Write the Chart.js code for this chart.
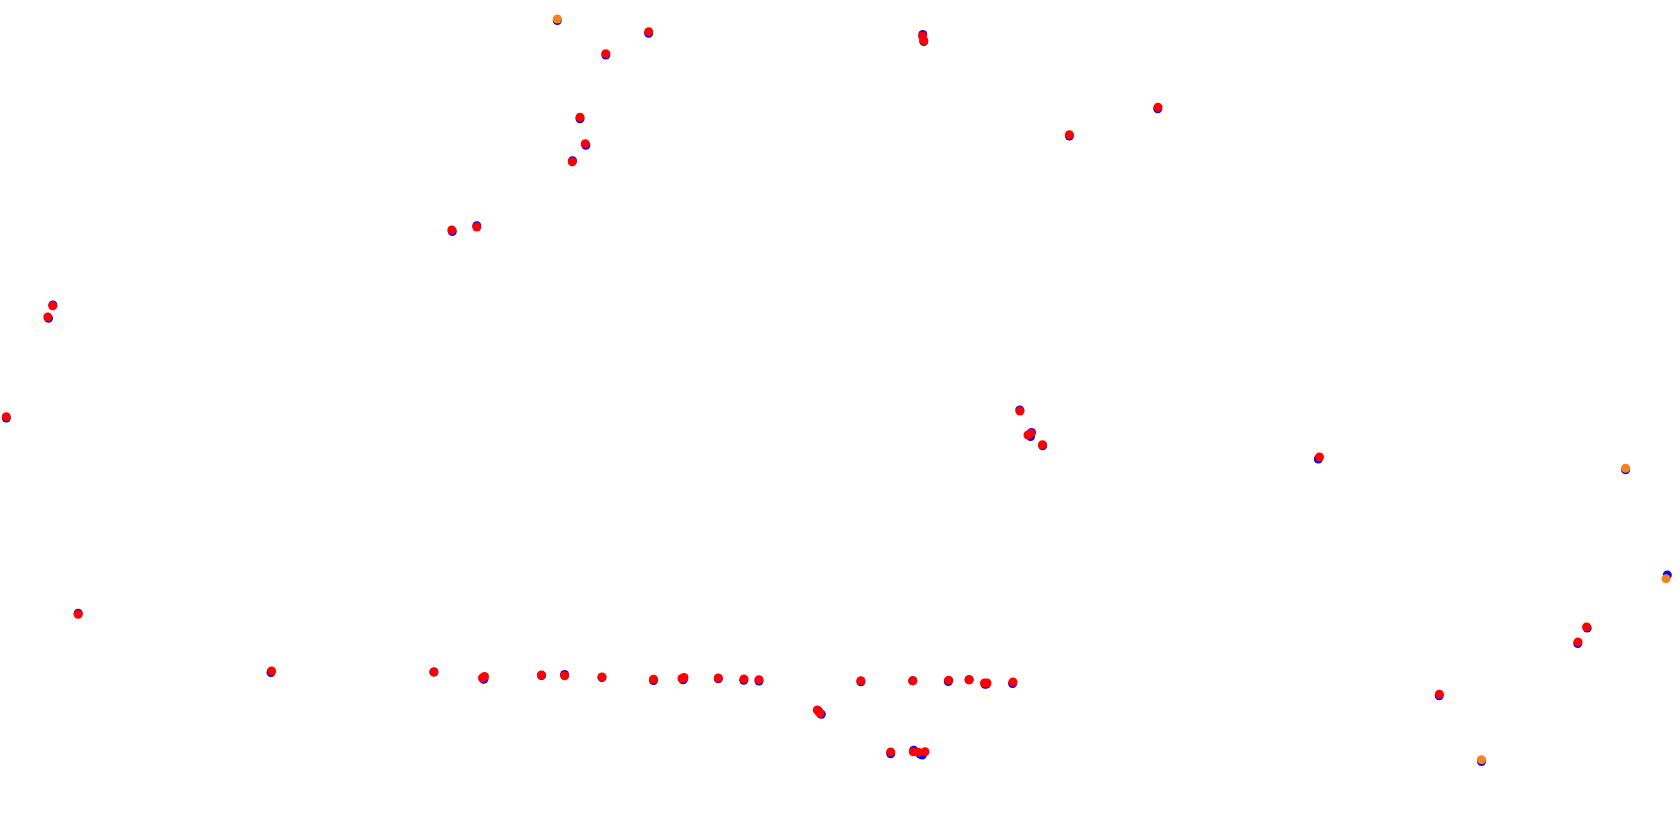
<!DOCTYPE html>
<html>
<head>
<meta charset="utf-8">
<script src="https://cdn.jsdelivr.net/npm/chart.js@4/dist/chart.umd.min.js"></script>
<style>
html,body{margin:0;padding:0;background:#fff;}
#wrap{width:1680px;height:827px;position:relative;}
</style>
</head>
<body>
<div id="wrap"><canvas id="c" width="1680" height="827"></canvas></div>
<script>
// Series values (x, y)
const redX = [648.7, 605.8, 922.5, 923.8, 580.0, 585.3, 572.3, 1158.0, 1069.4, 451.8, 476.8, 52.7, 47.8, 6.3, 1020.0, 1031.0, 1028.0, 1042.5, 1319.5,
  78.2, 271.6, 433.9, 482.5, 484.5, 541.5, 564.6, 602.0, 653.5, 682.0, 684.0, 718.3, 744.0, 759.0, 817.3, 820.0,
  860.9, 912.8, 948.7, 969.1, 984.5, 987.0, 1013.0, 890.7, 913.3, 918.3, 925.0, 1439.4, 1586.6, 1578.0];
const redY = [31.7, 53.7, 36.0, 40.7, 117.3, 143.7, 161.7, 107.3, 134.7, 230.0, 227.0, 305.7, 317.0, 416.7, 411.0, 433.3, 435.0, 444.7, 457.0,
  614.3, 671.0, 672.0, 678.0, 676.5, 675.0, 675.7, 677.0, 679.3, 678.5, 677.5, 678.0, 679.0, 679.7, 710.0, 713.3,
  680.7, 680.7, 680.3, 679.7, 683.0, 683.0, 682.0, 752.0, 751.7, 752.3, 751.7, 694.3, 627.0, 642.0];

const blueX = [648.7, 605.8, 922.8, 923.8, 580.0, 585.8, 572.5, 1157.8, 1069.4, 452.3, 476.8, 52.9, 48.5, 6.3, 1019.8, 1031.5, 1030.5, 1042.7, 1318.3,
  78.2, 271.0, 433.9, 483.7, 484.0, 541.5, 564.6, 602.0, 653.5, 683.0, 683.5, 718.3, 743.8, 759.0, 818.5, 821.3,
  860.9, 912.8, 948.3, 969.1, 985.0, 986.5, 1012.6, 890.7, 913.7, 920.0, 922.3, 1439.2, 1587.2, 1577.8,
  557.3, 1625.6, 1667.3, 1481.5];
const blueY = [33.2, 55.0, 34.5, 41.5, 118.8, 145.2, 160.7, 108.8, 136.0, 231.5, 225.8, 305.0, 318.3, 418.0, 410.0, 432.5, 436.5, 445.8, 459.0,
  613.3, 672.5, 672.0, 679.3, 678.5, 675.5, 674.5, 677.5, 680.5, 679.8, 679.0, 678.8, 680.2, 681.0, 711.0, 714.3,
  681.8, 680.7, 681.5, 679.7, 684.2, 684.0, 683.5, 753.7, 750.3, 754.0, 755.0, 695.8, 628.0, 643.5,
  20.5, 469.8, 575.0, 761.5];

const orangeX = [557.3, 1625.6, 1666.0, 1481.5];
const orangeY = [19.0, 468.3, 578.7, 759.7];

function pts(xs, ys) { return xs.map((x, i) => ({ x: x, y: ys[i] })); }

new Chart(document.getElementById('c'), {
  type: 'scatter',
  data: {
    datasets: [
      { label: 'orange', data: pts(orangeX, orangeY), backgroundColor: '#f5821f', order: 0 },
      { label: 'red', data: pts(redX, redY), backgroundColor: '#ff0000', order: 1 },
      { label: 'blue', data: pts(blueX, blueY), backgroundColor: '#0000ff', order: 2 }
    ]
  },
  options: {
    responsive: false,
    animation: false,
    devicePixelRatio: 1,
    layout: { padding: 0, autoPadding: false },
    elements: { point: { radius: 4.5, borderWidth: 0, hoverRadius: 4.5 } },
    plugins: { legend: { display: false }, tooltip: { enabled: false } },
    scales: {
      x: { type: 'linear', min: 0, max: 1680, display: false },
      y: { type: 'linear', min: 0, max: 827, reverse: true, display: false }
    }
  }
});
</script>
</body>
</html>
